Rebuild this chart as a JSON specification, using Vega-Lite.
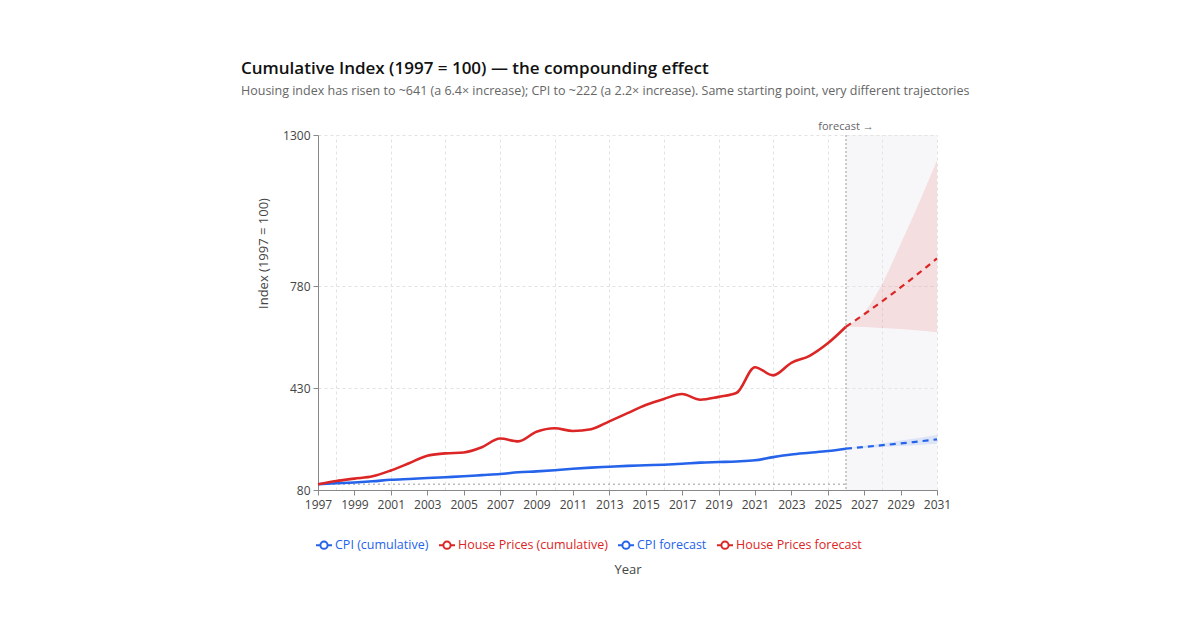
{
  "$schema": "https://vega.github.io/schema/vega-lite/v6.json",
  "width": 619,
  "height": 355,
  "autosize": {"type": "none"},
  "padding": {"left": 318, "top": 135, "right": 263, "bottom": 140},
  "background": "white",
  "config": {
    "font": "Open Sans",
    "view": {"stroke": null},
    "axis": {
      "labelFontSize": 12,
      "labelColor": "#444",
      "titleFontSize": 13,
      "titleColor": "#444",
      "titleFontWeight": "normal",
      "domainColor": "#888",
      "tickColor": "#888",
      "tickSize": 5,
      "gridColor": "#e2e2e2",
      "gridDash": [3, 3]
    }
  },
  "title": {
    "text": "Cumulative Index (1997 = 100) — the compounding effect",
    "subtitle": "Housing index has risen to ~641 (a 6.4× increase); CPI to ~222 (a 2.2× increase). Same starting point, very different trajectories",
    "anchor": "start",
    "dx": -16,
    "offset": 23,
    "fontSize": 17,
    "fontWeight": 600,
    "color": "#111",
    "subtitleFontSize": 12.5,
    "subtitleColor": "#666",
    "subtitlePadding": 7
  },
  "datasets": {
    "hist": [
      {"year": 1997, "series": "CPI (cumulative)", "value": 100},
      {"year": 1998, "series": "CPI (cumulative)", "value": 103},
      {"year": 1999, "series": "CPI (cumulative)", "value": 106},
      {"year": 2000, "series": "CPI (cumulative)", "value": 110},
      {"year": 2001, "series": "CPI (cumulative)", "value": 115},
      {"year": 2002, "series": "CPI (cumulative)", "value": 118},
      {"year": 2003, "series": "CPI (cumulative)", "value": 121},
      {"year": 2004, "series": "CPI (cumulative)", "value": 124},
      {"year": 2005, "series": "CPI (cumulative)", "value": 127},
      {"year": 2006, "series": "CPI (cumulative)", "value": 131},
      {"year": 2007, "series": "CPI (cumulative)", "value": 135},
      {"year": 2008, "series": "CPI (cumulative)", "value": 141},
      {"year": 2009, "series": "CPI (cumulative)", "value": 144},
      {"year": 2010, "series": "CPI (cumulative)", "value": 148},
      {"year": 2011, "series": "CPI (cumulative)", "value": 153},
      {"year": 2012, "series": "CPI (cumulative)", "value": 157},
      {"year": 2013, "series": "CPI (cumulative)", "value": 160},
      {"year": 2014, "series": "CPI (cumulative)", "value": 163},
      {"year": 2015, "series": "CPI (cumulative)", "value": 165},
      {"year": 2016, "series": "CPI (cumulative)", "value": 167},
      {"year": 2017, "series": "CPI (cumulative)", "value": 170},
      {"year": 2018, "series": "CPI (cumulative)", "value": 174},
      {"year": 2019, "series": "CPI (cumulative)", "value": 176},
      {"year": 2020, "series": "CPI (cumulative)", "value": 178},
      {"year": 2021, "series": "CPI (cumulative)", "value": 182},
      {"year": 2022, "series": "CPI (cumulative)", "value": 193},
      {"year": 2023, "series": "CPI (cumulative)", "value": 202},
      {"year": 2024, "series": "CPI (cumulative)", "value": 208},
      {"year": 2025, "series": "CPI (cumulative)", "value": 214},
      {"year": 2026, "series": "CPI (cumulative)", "value": 222},
      {"year": 1997, "series": "House Prices (cumulative)", "value": 100},
      {"year": 1998, "series": "House Prices (cumulative)", "value": 111},
      {"year": 1999, "series": "House Prices (cumulative)", "value": 119},
      {"year": 2000, "series": "House Prices (cumulative)", "value": 127},
      {"year": 2001, "series": "House Prices (cumulative)", "value": 147},
      {"year": 2002, "series": "House Prices (cumulative)", "value": 172},
      {"year": 2003, "series": "House Prices (cumulative)", "value": 198},
      {"year": 2004, "series": "House Prices (cumulative)", "value": 206},
      {"year": 2005, "series": "House Prices (cumulative)", "value": 209},
      {"year": 2006, "series": "House Prices (cumulative)", "value": 227},
      {"year": 2007, "series": "House Prices (cumulative)", "value": 257},
      {"year": 2008, "series": "House Prices (cumulative)", "value": 247},
      {"year": 2009, "series": "House Prices (cumulative)", "value": 280},
      {"year": 2010, "series": "House Prices (cumulative)", "value": 292},
      {"year": 2011, "series": "House Prices (cumulative)", "value": 283},
      {"year": 2012, "series": "House Prices (cumulative)", "value": 289},
      {"year": 2013, "series": "House Prices (cumulative)", "value": 316},
      {"year": 2014, "series": "House Prices (cumulative)", "value": 344},
      {"year": 2015, "series": "House Prices (cumulative)", "value": 372},
      {"year": 2016, "series": "House Prices (cumulative)", "value": 393},
      {"year": 2017, "series": "House Prices (cumulative)", "value": 410},
      {"year": 2018, "series": "House Prices (cumulative)", "value": 390},
      {"year": 2019, "series": "House Prices (cumulative)", "value": 400},
      {"year": 2020, "series": "House Prices (cumulative)", "value": 414},
      {"year": 2021, "series": "House Prices (cumulative)", "value": 502},
      {"year": 2022, "series": "House Prices (cumulative)", "value": 474},
      {"year": 2023, "series": "House Prices (cumulative)", "value": 517},
      {"year": 2024, "series": "House Prices (cumulative)", "value": 541},
      {"year": 2025, "series": "House Prices (cumulative)", "value": 584},
      {"year": 2026, "series": "House Prices (cumulative)", "value": 641}
    ],
    "forecast": [
      {"year": 2026, "series": "CPI forecast", "value": 222, "lo": 222, "hi": 222},
      {"year": 2027, "series": "CPI forecast", "value": 228, "lo": 225, "hi": 231},
      {"year": 2028, "series": "CPI forecast", "value": 234, "lo": 228, "hi": 240},
      {"year": 2029, "series": "CPI forecast", "value": 240, "lo": 231, "hi": 250},
      {"year": 2030, "series": "CPI forecast", "value": 247, "lo": 235, "hi": 259},
      {"year": 2031, "series": "CPI forecast", "value": 254, "lo": 239, "hi": 269},
      {"year": 2026, "series": "House Prices forecast", "value": 641, "lo": 641, "hi": 641},
      {"year": 2027, "series": "House Prices forecast", "value": 684, "lo": 640, "hi": 690},
      {"year": 2028, "series": "House Prices forecast", "value": 729, "lo": 637, "hi": 790},
      {"year": 2029, "series": "House Prices forecast", "value": 776, "lo": 633, "hi": 925},
      {"year": 2030, "series": "House Prices forecast", "value": 825, "lo": 628, "hi": 1065},
      {"year": 2031, "series": "House Prices forecast", "value": 876, "lo": 622, "hi": 1212}
    ],
    "periods": [
      {"start": 2026, "end": 2031, "label": "forecast →"}
    ],
    "baseline": [
      {"from": 1997, "to": 2026, "base": 100}
    ]
  },
  "layer": [
    {
      "data": {"name": "periods"},
      "mark": {"type": "rect", "fill": "#e6e6ee", "fillOpacity": 0.3},
      "encoding": {
        "x": {
          "field": "start",
          "type": "quantitative",
          "scale": {"domain": [1997, 2031], "nice": false, "zero": false},
          "axis": {
            "values": [1997, 1999, 2001, 2003, 2005, 2007, 2009, 2011, 2013, 2015, 2017, 2019, 2021, 2023, 2025, 2027, 2029, 2031],
            "format": "d",
            "grid": false,
            "title": "Year",
            "titlePadding": 53,
            "labelPadding": 4,
            "labelFlush": false
          }
        },
        "x2": {"field": "end"}
      }
    },
    {
      "data": {"name": "baseline"},
      "mark": {"type": "rule", "color": "#9a9a9a", "strokeDash": [2, 3], "strokeWidth": 1},
      "encoding": {
        "x": {
          "field": "from",
          "type": "quantitative",
          "axis": {
            "orient": "top",
            "values": [1998, 2001, 2004, 2007, 2010, 2013, 2016, 2019, 2022, 2025, 2028, 2031],
            "grid": true,
            "labels": false,
            "ticks": false,
            "domain": false,
            "title": null
          }
        },
        "x2": {"field": "to"},
        "y": {
          "field": "base",
          "type": "quantitative",
          "scale": {"domain": [80, 1300], "nice": false, "zero": false},
          "axis": {
            "values": [80, 430, 780, 1300],
            "format": "d",
            "grid": true,
            "title": "Index (1997 = 100)",
            "titleX": -48,
            "titleY": 118,
            "labelPadding": 3
          }
        }
      }
    },
    {
      "data": {"name": "periods"},
      "mark": {"type": "rule", "color": "#9a9a9a", "strokeDash": [2, 2], "strokeWidth": 1},
      "encoding": {
        "x": {"field": "start", "type": "quantitative", "axis": null}
      }
    },
    {
      "data": {"name": "forecast"},
      "transform": [{"filter": "datum.series === 'House Prices forecast'"}],
      "mark": {"type": "area", "color": "#dc2626", "opacity": 0.12, "interpolate": "monotone"},
      "encoding": {
        "x": {"field": "year", "type": "quantitative", "axis": null},
        "y": {"field": "lo", "type": "quantitative", "axis": null},
        "y2": {"field": "hi"}
      }
    },
    {
      "data": {"name": "forecast"},
      "transform": [{"filter": "datum.series === 'CPI forecast'"}],
      "mark": {"type": "area", "color": "#2563eb", "opacity": 0.13, "interpolate": "monotone"},
      "encoding": {
        "x": {"field": "year", "type": "quantitative", "axis": null},
        "y": {"field": "lo", "type": "quantitative", "axis": null},
        "y2": {"field": "hi"}
      }
    },
    {
      "data": {"name": "hist"},
      "mark": {"type": "line", "strokeWidth": 2.6, "interpolate": "monotone"},
      "encoding": {
        "x": {"field": "year", "type": "quantitative", "axis": null},
        "y": {"field": "value", "type": "quantitative", "axis": null},
        "color": {
          "field": "series",
          "type": "nominal",
          "scale": {
            "domain": ["CPI (cumulative)", "House Prices (cumulative)", "CPI forecast", "House Prices forecast"],
            "range": ["#2563eb", "#dc2626", "#2563eb", "#dc2626"]
          },
          "legend": {
            "orient": "none",
            "direction": "horizontal",
            "columns": 4,
            "legendX": -3,
            "legendY": 401,
            "title": null,
            "symbolType": "M-1,0H-0.45M0.45,0A0.45,0.45 0 1 1 -0.45,0A0.45,0.45 0 1 1 0.45,0H1",
            "symbolSize": 256,
            "symbolStrokeWidth": 2,
            "labelFontSize": 12.5,
            "labelOffset": 2,
            "columnPadding": 6,
            "encode": {
              "symbols": {"update": {"fill": {"value": "white"}, "stroke": {"scale": "color", "field": "value"}}},
              "labels": {"update": {"fill": {"scale": "color", "field": "value"}}}
            }
          }
        }
      }
    },
    {
      "data": {"name": "forecast"},
      "mark": {"type": "line", "strokeWidth": 2.2, "strokeDash": [6, 5], "interpolate": "monotone"},
      "encoding": {
        "x": {"field": "year", "type": "quantitative", "axis": null},
        "y": {"field": "value", "type": "quantitative", "axis": null},
        "color": {"field": "series", "type": "nominal", "legend": null}
      }
    },
    {
      "data": {"name": "periods"},
      "mark": {"type": "text", "fontSize": 11, "color": "#666", "align": "center", "baseline": "bottom", "dy": -3},
      "encoding": {
        "x": {"field": "start", "type": "quantitative", "axis": null},
        "y": {"datum": 1300, "type": "quantitative", "axis": null},
        "text": {"field": "label"}
      }
    }
  ],
  "resolve": {"axis": {"x": "independent", "y": "independent"}}
}
